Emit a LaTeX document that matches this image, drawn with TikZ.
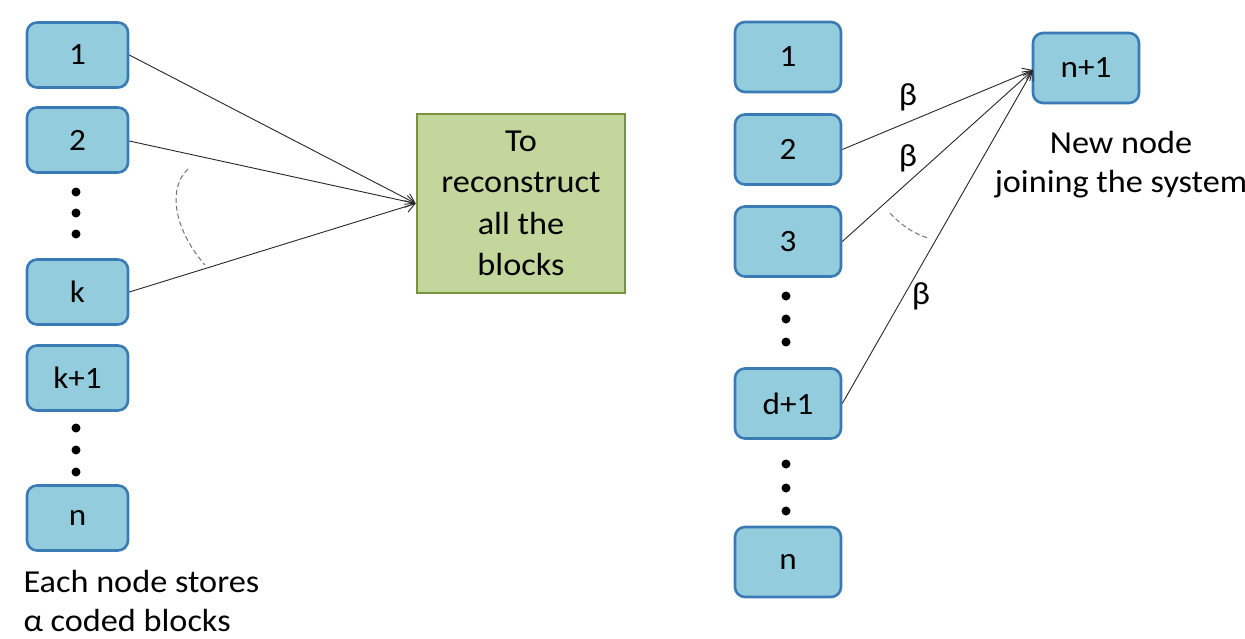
\documentclass[tikz,border=0pt]{standalone}
\usepackage{fontspec}
\setmainfont{Carlito}[FakeStretch=1.07]
\usetikzlibrary{arrows.meta}
\definecolor{boxfill}{HTML}{93CDDD}
\definecolor{boxline}{HTML}{3A7BB6}
\definecolor{greenfill}{HTML}{C3D69B}
\definecolor{greenline}{HTML}{77933C}
\tikzset{
  blk/.style={draw=boxline, fill=boxfill, line width=2.6pt, rounded corners=10pt,
    minimum width=101pt, minimum height=65pt, inner sep=0pt, font=\fontsize{31}{36}\selectfont},
  rblk/.style={blk, minimum width=106pt, minimum height=70pt},
  goal/.style={draw=greenline, fill=greenfill, line width=2.6pt,
    minimum width=208pt, minimum height=179pt, inner sep=0pt, align=center,
    font=\fontsize{32}{41.5}\selectfont},
  link/.style={draw=black!85, line width=0.9pt, -{Straight Barb[length=9pt,width=12pt]}},
  dot/.style={circle, fill=black, inner sep=0pt, minimum size=9pt},
  arcline/.style={draw=black!55, dashed, line width=1pt, dash pattern=on 5pt off 3pt},
  lbl/.style={font=\fontsize{32}{41}\selectfont},
}
\begin{document}
\begin{tikzpicture}[x=1pt,y=-1pt]
\useasboundingbox (0,0) rectangle (1245,638);

% left column: n storage nodes
\node[blk] (l1) at (77.5,55) {1};
\node[blk] (l2) at (77.5,140) {2};
\node[blk] (lk) at (77.5,292) {k};
\node[blk] (lk1) at (77.5,378) {k+1};
\node[blk] (ln) at (77.5,518) {n};
\foreach \yy in {192,213,234,428,450,472} \node[dot] at (76,\yy) {};

% data collector
\node[goal] (dc) at (521,203.5) {To\\reconstruct\\all the\\blocks};

\draw[link] (l1.east) -- (dc.west);
\draw[link] ([yshift=-1pt]l2.east) -- (dc.west);
\draw[link] (lk.east) -- (dc.west);
\draw[arcline] (188,169) .. controls (166,190) and (176,232) .. (205,265);

\node[lbl, anchor=base west] (cap1) at (20,592) {Each node stores};
\node[lbl, anchor=base west] (cap2) at (20,631) {α coded blocks};

% right column: repair of a failed node
\node[rblk] (r1) at (788,57) {1};
\node[rblk] (r2) at (788,149.5) {2};
\node[rblk] (r3) at (788,241.5) {3};
\node[rblk] (rd) at (788,403.5) {d+1};
\node[rblk] (rn) at (788,562) {n};
\foreach \yy in {296,319,342,464,488,511} \node[dot] at (786,\yy) {};

\node[rblk] (new) at (1086,68) {n+1};
\coordinate (tip) at (1033,70);

\draw[link] (r2.east) -- (tip);
\draw[link] (r3.east) -- (tip);
\draw[link] (rd.east) -- (tip);
\draw[arcline] (890,213) .. controls (900,224) and (912,233) .. (928,238);

\node[lbl] (b1) at (908,97) {β};
\node[lbl] (b2) at (908,158) {β};
\node[lbl] (b3) at (921,296) {β};

\node[lbl, anchor=base] (cap3) at (1121,153) {New node};
\node[lbl, anchor=base] (cap4) at (1121,192) {joining the system};
\end{tikzpicture}
\end{document}
